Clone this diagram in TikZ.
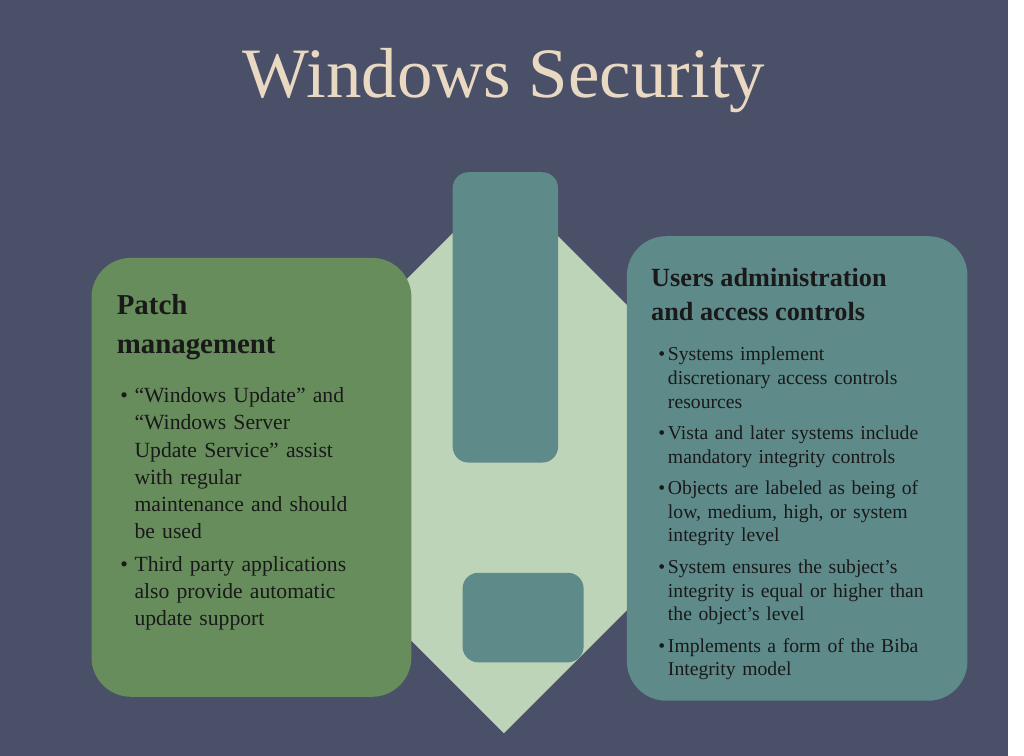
\documentclass[tikz,border=0pt]{standalone}
\usepackage{fontspec}
\setmainfont{Liberation Serif}
\begin{document}
\begin{tikzpicture}[x=0.75pt,y=-0.75pt,
  box/.style={rounded corners=30pt,draw=none},
  hd/.style={anchor=north west,align=left,font=\fontsize{20}{24}\selectfont\bfseries,text=black!90},
  bl/.style={anchor=north west,align=left,text=black!90}]
\definecolor{bg}{HTML}{4A5068}
\definecolor{tt}{HTML}{E9D8C2}
\definecolor{lg}{HTML}{BDD4B8}
\definecolor{gr}{HTML}{678D5C}
\definecolor{tl}{HTML}{5F8A8A}
\fill[bg] (0,0) rectangle (1024,768);
\node[text=tt,font=\fontsize{54}{60}\selectfont] (title) at (512,82) {Windows Security};
\fill[lg] (512,185) -- (792,465) -- (512,745) -- (232,465) -- cycle;
\fill[tl,rounded corners=12pt] (460,175) rectangle (567,470);
\fill[tl,rounded corners=12pt] (470,582) rectangle (593,673);
\fill[gr,box] (93,262) rectangle (418,708);
\fill[tl,box] (637,240) rectangle (983,712);
\node[hd,font=\fontsize{22}{24}\selectfont\bfseries] (lh) at (114,294) {Patch\\[6pt]management};
\node[bl,font=\fontsize{16.5}{20.7}\selectfont,text width=260pt] (lb) at (112,377) {%
\begin{list}{\textbullet}{\leftmargin=15pt\labelsep=5pt\itemsep=4pt\topsep=0pt\parsep=0pt}\raggedright
\item ``Windows Update'' and\\ ``Windows Server\\ Update Service'' assist\\ with regular\\ maintenance and should\\ be used
\item Third party applications\\ also provide automatic\\ update support
\end{list}};
\node[hd,font=\fontsize{20}{26}\selectfont\bfseries] (rh) at (657,268) {Users administration\\and access controls};
\node[bl,font=\fontsize{15}{18}\selectfont,text width=280pt] (rb) at (658,338) {%
\begin{list}{\textbullet}{\leftmargin=12pt\labelsep=2pt\itemsep=6pt\topsep=0pt\parsep=0pt}\raggedright
\item Systems implement\\ discretionary access controls\\ resources
\item Vista and later systems include\\ mandatory integrity controls
\item Objects are labeled as being of\\ low, medium, high, or system\\ integrity level
\item System ensures the subject's\\ integrity is equal or higher than\\ the object's level
\item Implements a form of the Biba\\ Integrity model
\end{list}};
\end{tikzpicture}
\end{document}
